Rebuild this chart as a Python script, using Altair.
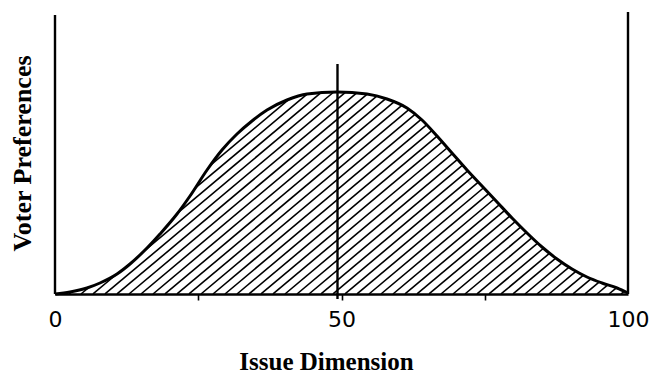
import altair as alt
import numpy as np
import pandas as pd

# Distribution of voter preferences along the issue dimension
issue_x = [0, 2.62, 5.58, 7.85, 10.82, 13.09, 16.06, 18.32, 21.29, 23.56, 26.53,
           29.14, 31.76, 34.38, 37.0, 40.49, 43.98, 49.21, 54.45, 57.94, 61.43,
           64.05, 66.67, 69.28, 71.90, 74.52, 77.14, 79.76, 82.37, 84.99, 87.61,
           90.23, 92.84, 95.46, 98.08, 100]
preference = [0, 2, 6, 11, 20, 30, 46, 60, 80, 98, 124,
              144, 160, 173, 184, 194, 200, 202, 200, 195, 186,
              174, 158, 141, 124, 108, 92, 76, 61, 47, 35,
              25, 17, 11, 6, 1]

tick_marks = [0, 25, 50, 75, 100]
median_x = 49.3

# frame lines: (x, bottom, top)
frame_x = [0, 100, median_x]
frame_bottom = [0, 0, -5]
frame_top = [279, 282, 230]

W, H = 573, 282
Y_MAX = 282
kx = W / 100.0
ky = H / Y_MAX

curve = pd.DataFrame({"x": issue_x, "y": preference})

# diagonal hatching: parallel 40 degree strokes clipped to the area under the curve
angle = np.deg2rad(40)
step_px = 12.0
fine_x = np.linspace(0, 100, 20001)
fine_y = np.interp(fine_x, issue_x, preference)
rows = []
for c_px in np.arange(-400 + step_px / 2, W, step_px):
    c = c_px / kx
    line_y = (fine_x - c) * kx * np.tan(angle) / ky
    inside = (line_y >= 0) & (line_y <= fine_y) & (fine_y > 0.3)
    if not inside.any():
        continue
    idx = np.flatnonzero(inside)
    breaks = np.flatnonzero(np.diff(idx) > 1)
    starts = np.concatenate(([idx[0]], idx[breaks + 1]))
    ends = np.concatenate((idx[breaks], [idx[-1]]))
    for s, e in zip(starts, ends):
        if e - s < 2:
            continue
        rows.append({"x": fine_x[s], "y": line_y[s], "x2": fine_x[e], "y2": line_y[e]})
hatch = pd.DataFrame(rows)

frame = pd.DataFrame({"x": frame_x, "y": frame_bottom, "y2": frame_top})

x_scale = alt.Scale(domain=[0, 100], nice=False, zero=False)
y_scale = alt.Scale(domain=[0, Y_MAX], nice=False)

x_axis = alt.Axis(
    values=tick_marks,
    labelExpr="datum.value % 50 == 0 ? datum.label : ''",
    title="Issue Dimension",
    titleFont="Liberation Serif", titleFontSize=25, titleFontWeight="bold",
    titleColor="#000", titlePadding=19, titleX=271,
    labelFont="DejaVu Sans", labelFontSize=22, labelColor="#000",
    labelPadding=9, labelFlush=False,
    tickSize=6, tickWidth=1.6, tickColor="#000",
    tickOpacity={"condition": {"test": "datum.value == 0 || datum.value == 100", "value": 0}, "value": 1},
    domainColor="#000", domainWidth=2.6, grid=False,
)
y_axis = alt.Axis(
    title="Voter Preferences",
    titleFont="Liberation Serif", titleFontSize=26, titleFontWeight="bold",
    titleColor="#000", titlePadding=20,
    labels=False, ticks=False, domain=False, grid=False,
)

hatch_layer = alt.Chart(hatch).mark_rule(color="#000", strokeWidth=1.6).encode(
    x=alt.X("x:Q", scale=x_scale, axis=x_axis),
    y=alt.Y("y:Q", scale=y_scale, axis=y_axis),
    x2="x2:Q",
    y2="y2:Q",
)

curve_layer = alt.Chart(curve).mark_line(
    color="#000", strokeWidth=3, interpolate="monotone"
).encode(x="x:Q", y="y:Q")

frame_layer = alt.Chart(frame).mark_rule(color="#000", strokeWidth=2.4).encode(
    x="x:Q", y="y:Q", y2="y2:Q"
)

chart = alt.layer(hatch_layer, curve_layer, frame_layer).properties(
    width=W,
    height=H,
    autosize=alt.AutoSizeParams(type="none"),
    padding={"left": 55, "top": 12, "right": 26, "bottom": 82},
    background="white",
).configure_view(stroke=None)

chart.save("out.html", embed_options={"renderer": "svg", "actions": False})
